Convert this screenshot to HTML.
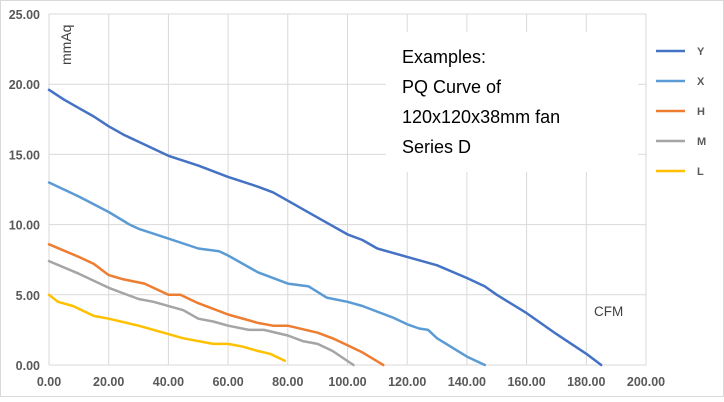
<!DOCTYPE html>
<html><head><meta charset="utf-8"><style>
html,body{margin:0;padding:0;background:#fff;}
svg{display:block;font-family:"Liberation Sans",sans-serif;}
</style></head><body>
<svg id="c" width="724" height="402" viewBox="0 0 724 402" xmlns="http://www.w3.org/2000/svg">
<rect x="0.5" y="0.5" width="723" height="396" fill="#fff" stroke="#d9d9d9"/>
<g id="grid" stroke="#d9d9d9" stroke-width="1"></g>
<rect x="386" y="32" width="252" height="140" fill="#fff"/>
<g id="series" fill="none" stroke-width="2.5" stroke-linejoin="round" stroke-linecap="round"></g>
<g id="labels" font-size="12.5" font-weight="bold" fill="#595959"></g>
<text transform="translate(71,65) rotate(-90)" font-size="14" fill="#404040">mmAq</text>
<text x="594" y="316" font-size="13.5" fill="#404040">CFM</text>
<g font-size="18" fill="#000">
<text x="402" y="63">Examples:</text>
<text x="402" y="93">PQ Curve of</text>
<text x="402" y="123">120x120x38mm fan</text>
<text x="402" y="153">Series D</text>
</g>
<g font-size="11" font-weight="bold" fill="#595959" stroke-width="2.5">
<line x1="656" y1="51" x2="685" y2="51" stroke="#4472C4"/><text x="697" y="55" stroke="none">Y</text>
<line x1="656" y1="81" x2="685" y2="81" stroke="#5B9BD5"/><text x="697" y="85" stroke="none">X</text>
<line x1="656" y1="111" x2="685" y2="111" stroke="#ED7D31"/><text x="697" y="115" stroke="none">H</text>
<line x1="656" y1="141" x2="685" y2="141" stroke="#A5A5A5"/><text x="697" y="145" stroke="none">M</text>
<line x1="656" y1="171" x2="685" y2="171" stroke="#FFC000"/><text x="697" y="175" stroke="none">L</text>
</g>
<script>
var NS="http://www.w3.org/2000/svg";
function X(v){return 49+v*2.985;}
function Y(v){return 365-v*14.04;}
function el(t,a,p){var e=document.createElementNS(NS,t);for(var k in a)e.setAttribute(k,a[k]);p.appendChild(e);return e;}
var g=document.getElementById('grid'),lb=document.getElementById('labels');
for(var i=0;i<=10;i++){var x=X(i*20);el('line',{x1:x,y1:Y(25),x2:x,y2:Y(0)},g);
var t=el('text',{x:x,y:386,'text-anchor':'middle'},lb);t.textContent=(i*20).toFixed(2);}
for(var j=0;j<=5;j++){var y=Y(j*5);el('line',{x1:X(0),y1:y,x2:X(200),y2:y},g);
var t=el('text',{x:40,y:y+5,'text-anchor':'end'},lb);t.textContent=(j*5).toFixed(2);}
var S=[
["#4472C4",[[0,19.6],[5,18.9],[10,18.3],[15,17.7],[20,17.0],[25,16.4],[30,15.9],[40,14.9],[50,14.2],[60,13.4],[70,12.7],[75,12.3],[80,11.7],[90,10.5],[100,9.3],[105,8.9],[110,8.3],[120,7.7],[130,7.1],[140,6.2],[146,5.6],[150,5.0],[160,3.7],[170,2.2],[180,0.8],[185,0]]],
["#5B9BD5",[[0,13],[10,12],[20,10.9],[27,10],[30,9.7],[40,9.0],[50,8.3],[57,8.1],[60,7.8],[70,6.6],[80,5.8],[87,5.6],[93,4.8],[100,4.5],[105,4.2],[115,3.4],[120,2.9],[124,2.6],[127,2.5],[130,1.9],[140,0.6],[146,0]]],
["#ED7D31",[[0,8.6],[10,7.7],[15,7.2],[20,6.4],[25,6.1],[32,5.8],[40,5.0],[44,5.0],[50,4.4],[60,3.6],[70,3.0],[75,2.8],[80,2.8],[90,2.3],[95,1.9],[100,1.4],[105,0.9],[112,0]]],
["#A5A5A5",[[0,7.4],[10,6.5],[20,5.5],[30,4.7],[35,4.5],[45,3.9],[50,3.3],[55,3.1],[60,2.8],[67,2.5],[72,2.5],[80,2.1],[85,1.7],[90,1.5],[95,1.0],[102,0]]],
["#FFC000",[[0,5.0],[3,4.5],[8,4.2],[15,3.5],[20,3.3],[30,2.8],[40,2.2],[45,1.9],[55,1.5],[60,1.5],[65,1.3],[70,1.0],[74,0.8],[79,0.3]]]
];
var sg=document.getElementById('series');
S.forEach(function(s){var p=s[1].map(function(q){return X(q[0]).toFixed(1)+','+Y(q[1]).toFixed(1);}).join(' ');
el('polyline',{points:p,stroke:s[0]},sg);});
</script>
</svg>
</body></html>
